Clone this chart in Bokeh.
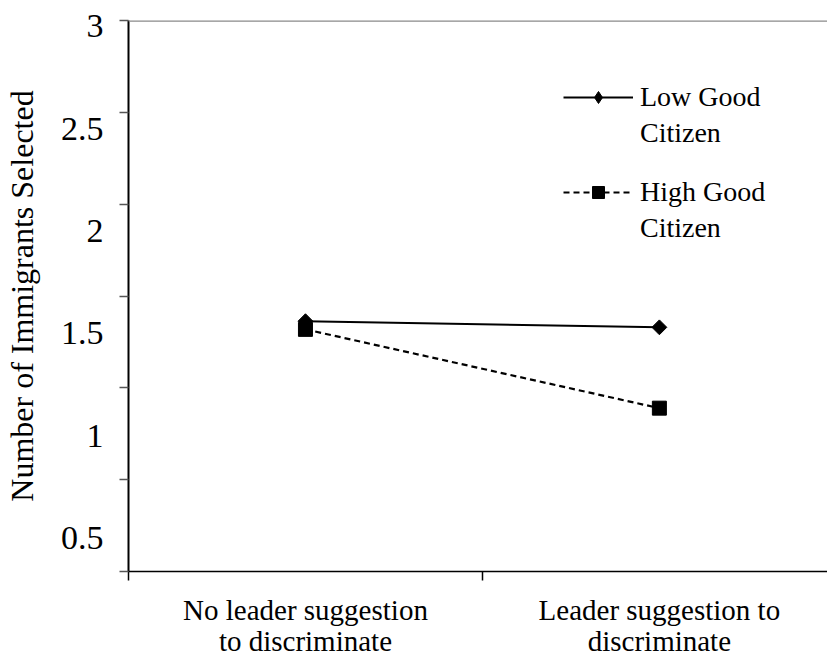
import numpy as np
from bokeh.plotting import figure
from bokeh.models import Range1d, FixedTicker, Span, Legend, LegendItem
from bokeh.embed import file_html
from bokeh.resources import INLINE

# ---- data ----
conditions = ["No leader suggestion\nto discriminate", "Leader suggestion to\ndiscriminate"]
low_good = [1.56, 1.53]
high_good = [1.52, 1.135]
series_names = [["Low Good", "Citizen"], ["High Good", "Citizen"]]
y_tick_values = [0.5, 1, 1.5, 2, 2.5, 3]
y_tick_labels = ["0.5", "1", "1.5", "2", "2.5", "3"]
y_title = "Number of Immigrants Selected"

# ---- axis extents ----
y_min, y_max = 0.337, 3.029
x_max = 1.975
x_pos = [i + 0.5 for i in range(len(conditions))]
x_bounds = [float(i) for i in range(len(conditions) + 1)]
y_marks = list(np.linspace(y_min, y_max, 7))

FONT = "Liberation Serif"

p = figure(width=827, height=659, output_backend="svg", toolbar_location=None,
           x_range=Range1d(0, x_max), y_range=Range1d(y_min, y_max),
           min_border_left=128, min_border_right=0, min_border_top=20,
           min_border_bottom=86)
p.grid.visible = False
p.outline_line_color = None

# y axis
ya = p.yaxis[0]
ya.ticker = FixedTicker(ticks=y_tick_values, minor_ticks=y_marks)
ya.major_label_overrides = {v: l for v, l in zip(y_tick_values, y_tick_labels)}
ya.major_tick_out = 0
ya.major_tick_in = 0
ya.minor_tick_out = 9
ya.minor_tick_in = 0
ya.minor_tick_line_color = "#555555"
ya.minor_tick_line_width = 1.5
ya.axis_line_color = "black"
ya.axis_line_width = 2
ya.major_label_text_font = FONT
ya.major_label_text_font_size = "34px"
ya.major_label_text_color = "black"
ya.major_label_standoff = 16
ya.axis_label = y_title
ya.axis_label_text_font = FONT
ya.axis_label_text_font_style = "normal"
ya.axis_label_text_font_size = "32px"
ya.axis_label_text_color = "black"
ya.axis_label_standoff = 18

# x axis
xa = p.xaxis[0]
xa.ticker = FixedTicker(ticks=x_pos, minor_ticks=x_bounds)
xa.major_label_overrides = {v: l for v, l in zip(x_pos, conditions)}
xa.major_tick_out = 0
xa.major_tick_in = 0
xa.minor_tick_out = 9
xa.minor_tick_in = 0
xa.minor_tick_line_color = "black"
xa.minor_tick_line_width = 1.5
xa.axis_line_color = "black"
xa.axis_line_width = 1.5
xa.major_label_text_font = FONT
xa.major_label_text_font_size = "29px"
xa.major_label_text_line_height = 0.97
xa.major_label_text_color = "black"
xa.major_label_standoff = 13

# top border
p.add_layout(Span(location=y_max, dimension="width", line_color="#8a8a8a", line_width=2.5))

# series
l1 = p.line(x_pos, low_good, line_color="black", line_width=2)
m1 = p.scatter(x_pos, low_good, marker="square", angle=np.pi / 4, size=10.5,
               fill_color="black", line_color="black")
l2 = p.line(x_pos, high_good, line_color="black", line_width=2.2, line_dash="6 4")
m2 = p.scatter(x_pos, high_good, marker="square", size=14,
               fill_color="black", line_color="black")
# legend-only diamond sample (legend glyphs are never rotated)
k1 = p.scatter(x_pos, low_good, marker="diamond", fill_color="black",
               line_color="black", visible=False)

legend_style = dict(glyph_width=70, glyph_height=30, label_standoff=7, spacing=4,
                    padding=0, margin=0, border_line_color=None,
                    background_fill_alpha=0, label_text_font=FONT,
                    label_text_font_size="28px", label_text_color="black",
                    label_height=30)
leg1 = Legend(items=[LegendItem(label=series_names[0][0], renderers=[l1, k1]),
                     LegendItem(label=series_names[0][1], renderers=[])],
              location=(435, 422), **legend_style)
leg2 = Legend(items=[LegendItem(label=series_names[1][0], renderers=[l2, m2]),
                     LegendItem(label=series_names[1][1], renderers=[])],
              location=(435, 327), **legend_style)
p.add_layout(leg1)
p.add_layout(leg2)

open("out.html", "w").write(file_html(p, INLINE))
